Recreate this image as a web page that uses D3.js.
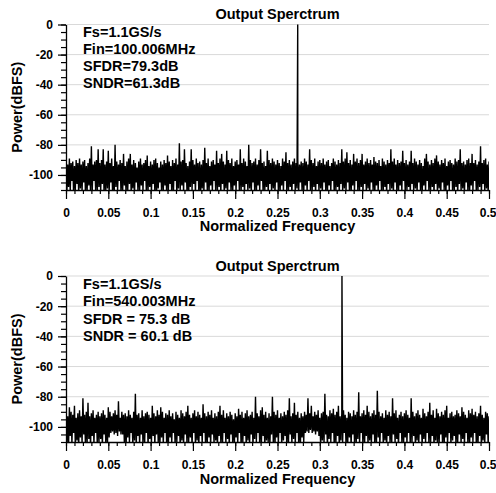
<!DOCTYPE html>
<html><head><meta charset="utf-8">
<script src="https://cdn.jsdelivr.net/npm/d3@7"></script>
<style>
body{margin:0;background:#fff}
svg{display:block}
text{font-family:"Liberation Sans",Arial,Helvetica,sans-serif;font-weight:bold;fill:#000}
</style>
</head><body>
<script>
// ---------- data ----------
const binStep = 0.002; // normalized-frequency spacing of the noise bins
const topHi = [
-90,-93,-89,-92,-91,-94,-90,-92,-89,-93,-91,-90,-94,-92,-89,-81,-93,-91,-90,-83,
-92,-90,-83,-93,-91,-84,-92,-89,-94,-80,-91,-93,-90,-92,-86,-94,-91,-89,-86,-93,
-90,-92,-95,-91,-89,-93,-92,-90,-87,-94,-91,-93,-90,-89,-92,-95,-91,-93,-90,-92,
-87,-91,-94,-90,-92,-89,-93,-79,-91,-90,-83,-92,-94,-91,-83,-90,-93,-89,-92,-91,
-93,-90,-82,-92,-89,-94,-91,-90,-93,-84,-92,-89,-86,-91,-93,-84,-90,-92,-89,-94,
-91,-90,-93,-83,-92,-89,-91,-94,-80,-90,-92,-91,-89,-93,-90,-83,-92,-91,-94,-84,
-90,-92,-89,-91,-93,-90,-92,-94,-89,-91,-85,-92,-90,-93,-91,-89,-92,-90,-93,-91,
-92,-89,-91,-93,-83,-90,-92,-89,-94,-91,-90,-92,-89,-93,-91,-90,-94,-92,-89,-91,
-93,-90,-92,-83,-91,-89,-85,-92,-90,-93,-86,-91,-89,-92,-90,-86,-93,-91,-89,-92,
-90,-93,-88,-91,-92,-90,-94,-89,-91,-93,-90,-92,-83,-91,-89,-93,-90,-92,-91,-84,
-92,-90,-93,-91,-84,-92,-89,-91,-93,-90,-92,-94,-89,-86,-91,-93,-90,-92,-89,-87,
-91,-93,-90,-92,-89,-94,-91,-90,-92,-93,-89,-91,-90,-83,-92,-91,-93,-90,-89,-92,
-86,-92,-90,-93,-91,-81,-92,-90,-89,-93,-91];
const topLo = [
-112,-108,-111,-104,-113,-110,-106,-112,-109,-111,-105,-113,-110,-107,-112,-111,-104,-110,-112,-108,
-111,-106,-113,-110,-109,-112,-105,-111,-113,-108,-110,-104,-112,-111,-107,-113,-110,-106,-112,-109,
-113,-105,-110,-112,-107,-111,-104,-113,-110,-108,-112,-106,-111,-113,-109,-105,-112,-110,-107,-113,
-110,-106,-112,-111,-104,-113,-109,-110,-107,-112,-105,-111,-113,-108,-110,-106,-112,-104,-111,-113,
-109,-112,-105,-110,-113,-107,-111,-104,-112,-110,-108,-113,-106,-111,-109,-112,-105,-110,-113,-107,
-111,-104,-112,-110,-108,-113,-106,-111,-109,-112,-105,-110,-113,-107,-111,-104,-112,-110,-108,-113,
-106,-111,-109,-112,-105,-110,-113,-107,-111,-104,-112,-110,-108,-113,-106,-111,-109,-112,-105,-110,
-113,-107,-111,-104,-112,-110,-108,-113,-106,-111,-109,-112,-105,-110,-113,-107,-111,-104,-112,-110,
-108,-113,-106,-111,-109,-112,-105,-110,-113,-107,-111,-104,-112,-110,-108,-113,-106,-111,-109,-112,
-105,-110,-113,-107,-111,-104,-112,-110,-108,-113,-106,-111,-109,-112,-105,-110,-113,-107,-111,-104,
-112,-110,-108,-113,-106,-111,-109,-112,-105,-110,-113,-107,-111,-104,-112,-110,-108,-113,-106,-111,
-109,-112,-105,-110,-113,-107,-111,-104,-112,-110,-108,-113,-106,-111,-109,-112,-105,-110,-113,-107,
-111,-104,-112,-110,-108,-113,-106,-111,-109,-112,-110];
const botHi = [
-91,-93,-87,-90,-92,-86,-94,-91,-89,-93,-81,-92,-90,-84,-93,-91,-89,-94,-92,-90,
-93,-91,-89,-92,-94,-87,-90,-93,-91,-89,-92,-83,-94,-90,-92,-91,-93,-89,-92,-94,
-90,-78,-92,-91,-94,-89,-93,-91,-90,-92,-94,-86,-91,-93,-89,-92,-87,-90,-94,-91,
-92,-89,-93,-91,-95,-90,-92,-94,-89,-91,-93,-90,-86,-92,-94,-91,-89,-93,-90,-92,
-94,-85,-91,-93,-90,-92,-89,-94,-91,-93,-90,-86,-92,-89,-94,-91,-93,-90,-92,-95,
-91,-93,-88,-92,-90,-94,-91,-89,-93,-92,-90,-94,-80,-91,-93,-89,-87,-92,-90,-94,
-91,-93,-80,-90,-92,-89,-94,-91,-93,-90,-92,-89,-81,-93,-91,-84,-92,-90,-94,-91,
-93,-90,-92,-81,-91,-86,-93,-90,-92,-89,-94,-91,-90,-78,-92,-93,-89,-91,-88,-92,
-90,-86,-93,-91,-89,-92,-94,-90,-91,-93,-89,-92,-90,-77,-93,-91,-89,-92,-86,-90,
-93,-91,-89,-92,-76,-90,-93,-91,-94,-89,-92,-90,-93,-81,-91,-89,-94,-92,-90,-93,
-91,-89,-92,-94,-81,-90,-93,-91,-89,-92,-94,-88,-91,-93,-90,-84,-92,-89,-94,-88,
-91,-93,-90,-92,-89,-86,-94,-91,-90,-93,-92,-89,-91,-93,-87,-90,-92,-94,-89,-91,
-88,-92,-90,-93,-91,-86,-92,-94,-90,-91,-93];
const botLo = [
-110,-113,-106,-111,-104,-112,-109,-113,-107,-111,-105,-112,-110,-108,-113,-106,-111,-104,-112,-110,
-108,-113,-105,-110,-112,-107,-104,-103,-105,-104,-106,-103,-105,-105,-111,-113,-107,-110,-104,-112,
-109,-113,-106,-111,-105,-112,-110,-104,-113,-108,-111,-106,-112,-105,-110,-113,-107,-111,-104,-112,
-113,-107,-111,-104,-112,-110,-106,-113,-109,-111,-105,-112,-110,-107,-113,-104,-111,-109,-112,-106,
-111,-104,-113,-110,-107,-112,-105,-111,-109,-113,-106,-110,-112,-104,-111,-108,-113,-105,-110,-112,
-107,-111,-104,-113,-110,-106,-112,-109,-111,-105,-113,-108,-110,-104,-112,-111,-106,-113,-109,-110,
-112,-105,-110,-113,-107,-111,-104,-112,-109,-106,-113,-110,-105,-111,-108,-112,-104,-110,-113,-107,
-110,-104,-103,-104,-102,-104,-103,-105,-103,-106,-112,-109,-111,-105,-113,-108,-110,-104,-112,-111,
-106,-113,-109,-110,-104,-112,-111,-107,-113,-105,-110,-112,-108,-111,-104,-113,-110,-106,-112,-109,
-111,-105,-113,-110,-107,-112,-104,-111,-109,-113,-106,-110,-112,-105,-111,-108,-113,-104,-110,-112,
-107,-111,-104,-113,-110,-106,-112,-109,-111,-105,-113,-108,-110,-104,-112,-111,-106,-113,-109,-110,
-112,-105,-110,-113,-107,-111,-104,-112,-109,-106,-113,-110,-105,-111,-108,-112,-104,-110,-113,-107,
-110,-104,-112,-111,-106,-113,-109,-110,-105,-112,-111];
const toneFreq = [0.2739, 0.3262];
const tonePower = [0, 0];
const topNotes = ["Fs=1.1GS/s", "Fin=100.006MHz", "SFDR=79.3dB", "SNDR=61.3dB"];
const botNotes = ["Fs=1.1GS/s", "Fin=540.003MHz", "SFDR = 75.3 dB", "SNDR = 60.1 dB"];
const titles = ["Output Sperctrum", "Output Sperctrum"];
const xTicks = [0, 0.05, 0.1, 0.15, 0.2, 0.25, 0.3, 0.35, 0.4, 0.45, 0.5];
const xTickLabels = ["0", "0.05", "0.1", "0.15", "0.2", "0.25", "0.3", "0.35", "0.4", "0.45", "0.5"];
const xMinorTicks = d3.range(0, 51).map(i => i / 100);
const yTicks = [0, -20, -40, -60, -80, -100];
const yMinorTicks = d3.range(0, 23).map(i => -5 * i);
const gridValues = [0, -20, -40, -60, -80, -100];
const yDomain = [-110, 0];
const xDomain = [0, 0.5];
const xLabel = "Normalized Frequency";
const yLabel = "Power(dBFS)";

// ---------- layout ----------
const W = 496, H = 493;
const left = 66, right = 489;
const panels = [
  {hi: topHi, lo: topLo, k: 0, notes: topNotes, yTop: 24.5, yBot: 190, titleY: 19.3, noteY: 37.3, noteDy: 16.8, xLabelY: 231},
  {hi: botHi, lo: botLo, k: 1, notes: botNotes, yTop: 276, yBot: 442, titleY: 270.5, noteY: 289.3, noteDy: 17.1, xLabelY: 484}
];

const svg = d3.select("body").append("svg").attr("width", W).attr("height", H);
const x = d3.scaleLinear().domain(xDomain).range([left, right]);

panels.forEach((p, pi) => {
  const y = d3.scaleLinear().domain(yDomain).range([p.yBot, p.yTop]);
  const g = svg.append("g");

  // gridlines
  g.selectAll("line.grid").data(gridValues).enter().append("line")
    .attr("class", "grid")
    .attr("x1", left).attr("x2", right)
    .attr("y1", d => y(d)).attr("y2", d => y(d))
    .attr("stroke", "#d9d9d9").attr("stroke-width", 1);

  // clip
  const cid = "clip" + pi;
  svg.append("clipPath").attr("id", cid).append("rect")
    .attr("x", left).attr("y", p.yTop - 2).attr("width", right - left).attr("height", p.yBot - p.yTop + 2);

  // spectrum points
  const pts = [];
  p.hi.forEach((h, i) => {
    pts.push([i * binStep, h]);
    if (p.lo[i] !== undefined) pts.push([i * binStep + binStep / 2, p.lo[i]]);
  });
  pts.push([toneFreq[p.k], tonePower[p.k]]);
  pts.sort((a, b) => a[0] - b[0]);

  const line = d3.line().x(d => x(d[0])).y(d => y(d[1]));
  g.append("path").datum(pts)
    .attr("clip-path", `url(#${cid})`)
    .attr("d", line)
    .attr("fill", "none").attr("stroke", "#000").attr("stroke-width", 1.4)
    .attr("stroke-linejoin", "bevel");

  // y axis minor
  g.append("g").attr("transform", `translate(${left},0)`)
    .call(d3.axisLeft(y).tickValues(yMinorTicks.filter(v => v >= -110)).tickSize(5).tickSizeOuter(0).tickFormat(""))
    .call(a => a.selectAll("line").attr("stroke", "#000").attr("stroke-width", 1.2))
    .call(a => a.select(".domain").attr("stroke", "#000").attr("stroke-width", 1.3));
  // y axis major
  g.append("g").attr("transform", `translate(${left},0)`)
    .call(d3.axisLeft(y).tickValues(yTicks).tickSize(8).tickPadding(5).tickSizeOuter(0).tickFormat(d => String(d)))
    .call(a => a.select(".domain").remove())
    .call(a => a.selectAll("line").attr("stroke", "#000").attr("stroke-width", 1.2))
    .call(a => a.selectAll("text").attr("font-size", 12).attr("fill", "#000")
      .attr("font-family", '"Liberation Sans",Arial,sans-serif').attr("font-weight", "bold"));

  // x axis minor
  g.append("g").attr("transform", `translate(0,${p.yBot})`)
    .call(d3.axisBottom(x).tickValues(xMinorTicks).tickSize(4).tickSizeOuter(0).tickFormat(""))
    .call(a => a.selectAll("line").attr("stroke", "#000").attr("stroke-width", 1.2))
    .call(a => a.select(".domain").attr("stroke", "#000").attr("stroke-width", 1.3));
  // x axis major
  g.append("g").attr("transform", `translate(0,${p.yBot})`)
    .call(d3.axisBottom(x).tickValues(xTicks).tickSize(9).tickPadding(9).tickSizeOuter(0)
      .tickFormat((d, i) => xTickLabels[i]))
    .call(a => a.select(".domain").remove())
    .call(a => a.selectAll("line").attr("stroke", "#000").attr("stroke-width", 1.2))
    .call(a => a.selectAll("text").attr("font-size", 12).attr("fill", "#000")
      .attr("font-family", '"Liberation Sans",Arial,sans-serif').attr("font-weight", "bold"))
    .call(a => a.selectAll("text").filter(d => d === 0.5).attr("text-anchor", "end").attr("dx", 7));

  // title
  g.append("text").attr("x", 277.5).attr("y", p.titleY).attr("text-anchor", "middle")
    .attr("font-size", 14.5).text(titles[pi]);

  // annotations
  g.selectAll("text.note").data(p.notes).enter().append("text")
    .attr("class", "note")
    .attr("x", 83).attr("y", (d, i) => p.noteY + i * p.noteDy)
    .attr("font-size", 14.5).text(d => d);

  // axis labels
  g.append("text").attr("x", 277.5).attr("y", p.xLabelY).attr("text-anchor", "middle")
    .attr("font-size", 14.5).text(xLabel);
  g.append("text")
    .attr("transform", `translate(22,${(p.yTop + p.yBot) / 2}) rotate(-90)`)
    .attr("text-anchor", "middle").attr("font-size", 14.5).text(yLabel);
});
</script>
</body></html>
